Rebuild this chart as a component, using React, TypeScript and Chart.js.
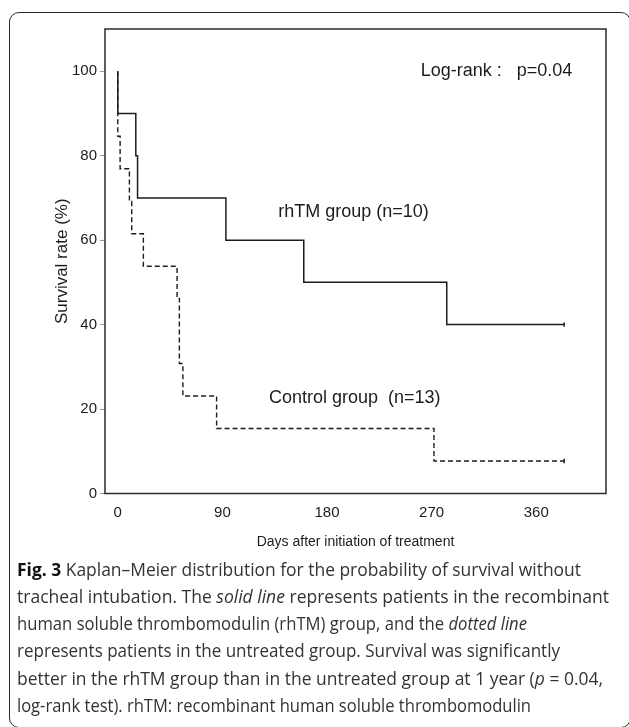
import React, { useEffect, useRef } from "react";
import { Chart, registerables } from "chart.js";

Chart.register(...registerables);

// ---- data ----
const RHTM_DAYS = [0, 0, 15.5, 17, 93, 160, 283, 384];
const RHTM_SURV = [100, 90, 80, 70, 60, 50, 40, 40];
const CTRL_DAYS = [0, 0, 2, 10, 12, 22, 51, 53, 56, 85, 272, 384];
const CTRL_SURV = [100, 84.6, 76.9, 69.2, 61.5, 53.8, 46.2, 30.8, 23.1, 15.4, 7.7, 7.7];
const X_TICKS = [0, 90, 180, 270, 360];
const Y_TICKS = [0, 20, 40, 60, 80, 100];
const SERIES_NAMES = ["rhTM group (n=10)", "Control group  (n=13)"];
const LOGRANK_TEXT = "Log-rank :   p=0.04";
const X_TITLE = "Days after initiation of treatment";
const Y_TITLE = "Survival rate (%)";

// text annotations placed in data coordinates
const NOTES = [
  { text: LOGRANK_TEXT, x: 391, y: 100, align: "right" as CanvasTextAlign },
  { text: SERIES_NAMES[0], x: 138, y: 66.7, align: "left" as CanvasTextAlign },
  { text: SERIES_NAMES[1], x: 130, y: 22.6, align: "left" as CanvasTextAlign },
];

const FONT = '"Liberation Sans", Arial, sans-serif';
const INK = "#1c1c1c";

const framePlugin = {
  id: "frame",
  afterDraw(chart: any) {
    const { ctx, chartArea: a, scales } = chart;
    ctx.save();
    ctx.strokeStyle = "#2a2a2a";
    ctx.lineWidth = 1.5;
    ctx.strokeRect(a.left, a.top, a.right - a.left, a.bottom - a.top);
    ctx.fillStyle = INK;
    ctx.font = `18px ${FONT}`;
    ctx.textBaseline = "middle";
    for (const n of NOTES) {
      ctx.textAlign = n.align;
      ctx.fillText(n.text, scales.x.getPixelForValue(n.x), scales.y.getPixelForValue(n.y));
    }
    ctx.restore();
  },
};

const CAPTION: React.ReactNode[] = [
  <><b style={{ color: "#111" }}>Fig. 3</b> Kaplan–Meier distribution for the probability of survival without</>,
  <>tracheal intubation. The <i>solid line</i> represents patients in the recombinant</>,
  <>human soluble thrombomodulin (rhTM) group, and the <i>dotted line</i></>,
  <>represents patients in the untreated group. Survival was significantly</>,
  <>better in the rhTM group than in the untreated group at 1 year (<i>p</i> = 0.04,</>,
  <>log-rank test). rhTM: recombinant human soluble thrombomodulin</>,
];
const CAPTION_LEFT = 17;
const CAPTION_RIGHTS = [581, 609, 527, 560, 603, 531];

export default function App() {
  const canvasRef = useRef<HTMLCanvasElement | null>(null);
  const lineRefs = useRef<(HTMLSpanElement | null)[]>([]);

  useEffect(() => {
    document.body.style.margin = "0";
    document.body.style.overflow = "hidden";
    lineRefs.current.forEach((el, i) => {
      if (!el) return;
      const w = el.getBoundingClientRect().width;
      if (w > 0) el.style.transform = `scaleX(${(CAPTION_RIGHTS[i] - CAPTION_LEFT) / w})`;
    });
    const canvas = canvasRef.current!;
    const mk = (days: number[], surv: number[]) => days.map((d, i) => ({ x: d, y: surv[i] }));
    const lastOnly = (len: number) => (c: any) => (c.dataIndex === len - 1 ? 2.2 : 0);
    const chart = new Chart(canvas, {
      type: "line",
      data: {
        datasets: [
          {
            label: SERIES_NAMES[0],
            data: mk(RHTM_DAYS, RHTM_SURV),
            stepped: true,
            borderColor: INK,
            borderWidth: 1.5,
            fill: false,
            pointStyle: "line",
            rotation: 90,
            pointRadius: lastOnly(RHTM_DAYS.length),
            pointBorderColor: INK,
            pointBorderWidth: 1.5,
          },
          {
            label: SERIES_NAMES[1],
            data: mk(CTRL_DAYS, CTRL_SURV),
            stepped: true,
            borderColor: INK,
            borderWidth: 1.4,
            borderDash: [5, 3],
            fill: false,
            pointStyle: "line",
            rotation: 90,
            pointRadius: lastOnly(CTRL_DAYS.length),
            pointBorderColor: INK,
            pointBorderWidth: 1.5,
          },
        ],
      },
      options: {
        animation: false,
        responsive: false,
        layout: { padding: { left: 25, top: 29, right: 23, bottom: 0 } },
        plugins: { legend: { display: false }, tooltip: { enabled: false } },
        scales: {
          x: {
            type: "linear",
            min: -11,
            max: 420,
            afterBuildTicks: (s: any) => {
              s.ticks = X_TICKS.map((v) => ({ value: v }));
            },
            afterFit: (s: any) => {
              s.height = 66.5;
            },
            grid: { display: false, drawTicks: false },
            border: { display: false },
            ticks: { color: INK, font: { family: FONT, size: 15 }, padding: 10, maxRotation: 0, autoSkip: false },
            title: {
              display: true,
              text: X_TITLE,
              color: INK,
              font: { family: FONT, size: 14 },
              padding: { top: 0, bottom: 9.5 },
            },
          },
          y: {
            type: "linear",
            min: 0,
            max: 110,
            afterBuildTicks: (s: any) => {
              s.ticks = Y_TICKS.map((v) => ({ value: v }));
            },
            afterFit: (s: any) => {
              s.width = 80;
            },
            grid: { display: true, drawOnChartArea: false, drawTicks: true, tickLength: 5, color: "#999", lineWidth: 1 },
            border: { display: false },
            ticks: { color: INK, font: { family: FONT, size: 15 }, padding: 3 },
            title: {
              display: true,
              text: Y_TITLE,
              color: INK,
              font: { family: FONT, size: 17 },
              padding: { top: 27, bottom: 0 },
            },
          },
        },
      },
      plugins: [framePlugin],
    });
    return () => chart.destroy();
  }, []);

  return (
    <div style={{ position: "relative", width: 629, height: 727, overflow: "hidden", background: "#fff" }}>
      <div
        style={{
          position: "absolute",
          left: 9,
          top: 12,
          width: 622,
          height: 716,
          border: "1.5px solid #2a2a2a",
          borderRadius: 10,
          boxSizing: "border-box",
        }}
      />
      <canvas ref={canvasRef} width={629} height={560} style={{ position: "absolute", left: 0, top: 0, width: 629, height: 560 }} />
      <div
        style={{
          position: "absolute",
          left: CAPTION_LEFT,
          top: 555.5,
          fontFamily: '"Open Sans", "Noto Sans", sans-serif',
          fontSize: 17.5,
          lineHeight: "27.3px",
          color: "#333",
          whiteSpace: "nowrap",
        }}
      >
        {CAPTION.map((c, i) => (
          <div key={i}>
            <span
              ref={(el) => {
                lineRefs.current[i] = el;
              }}
              style={{ display: "inline-block", transformOrigin: "left center" }}
            >
              {c}
            </span>
          </div>
        ))}
      </div>
    </div>
  );
}
